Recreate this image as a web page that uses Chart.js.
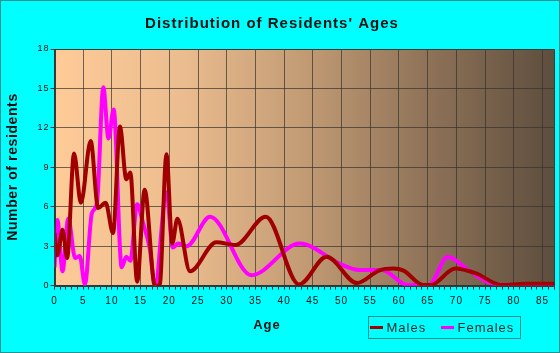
<!DOCTYPE html>
<html>
<head>
<meta charset="utf-8">
<script src="https://cdn.jsdelivr.net/npm/chart.js@4.4.1/dist/chart.umd.min.js"></script>
<style>
  html, body { margin: 0; padding: 0; background: #00ffff; }
</style>
</head>
<body>
<canvas id="ages" width="560" height="353"></canvas>
<script>
/* data */
const maleAges   = [0, 0.5, 1.4, 2.2, 3.4, 4.6, 6.3, 7.6, 8.9, 10.2, 11.4, 12.5, 13.2, 14.4, 15.7, 17.5, 18.3, 19.5, 20.5, 21.4, 23.6, 28.2, 31.5, 36.8, 42.6, 47.4, 52.7, 56.5, 59, 60.8, 64.2, 65.5, 69.8, 73.3, 77.9, 82, 87];
const maleCounts = [4.0, 2.3, 4.25, 2.1, 10.05, 6.3, 11.0, 5.9, 6.3, 4.0, 12.1, 8.1, 8.6, 0.3, 7.3, 0, 0, 10.0, 3.2, 5.1, 1.1, 3.3, 3.1, 5.25, 0.1, 2.2, 0.2, 1.15, 1.3, 1.15, 0.05, 0.05, 1.3, 0.95, 0.05, 0.15, 0.15];

const femaleAges   = [0, 0.5, 1.4, 2.4, 3.6, 4.4, 5.3, 6.5, 7.4, 8.5, 9.4, 10.3, 11.7, 12.5, 13.2, 14.4, 15.4, 16.6, 17.5, 19.5, 20.6, 21.5, 23, 27.1, 34.3, 42.7, 50, 53, 57, 61.5, 65.2, 68.5, 72, 76, 80, 87];
const femaleCounts = [1.4, 5.0, 1.1, 5.1, 2.1, 2.25, 0.1, 5.5, 6.3, 15.1, 11.2, 13.4, 1.4, 2.2, 1.9, 6.2, 4.8, 2.8, 0, 7.1, 2.9, 3.2, 3.0, 5.25, 0.8, 3.2, 1.6, 1.2, 1.2, 0.05, 0.05, 2.2, 1.2, 0.2, 0.05, 0.05];

const seriesNames = ['Males', 'Females'];
const seriesColors = ['#a00000', '#ff00ff'];

const FONT = 'Arial, "Liberation Sans", sans-serif';
const GRID = 'rgba(55,50,45,0.7)';

function points(xs, ys) {
  return xs.map((x, i) => ({ x: x, y: ys[i] }));
}

// background, titles, legend and frame
const decor = {
  id: 'decor',
  beforeDraw(chart) {
    const { ctx, chartArea: a } = chart;
    ctx.save();
    ctx.fillStyle = '#00ffff';
    ctx.fillRect(0, 0, chart.width, chart.height);
    const g = ctx.createLinearGradient(a.left, 0, a.right, 0);
    g.addColorStop(0, '#fecb98');
    g.addColorStop(0.25, '#ecbd8f');
    g.addColorStop(0.5, '#c29b74');
    g.addColorStop(0.75, '#8e7258');
    g.addColorStop(1, '#5e4e3e');
    ctx.fillStyle = g;
    ctx.fillRect(a.left, a.top, a.right - a.left, a.bottom - a.top);
    ctx.restore();
    ctx.letterSpacing = '1px';
  },
  afterDraw(chart) {
    const { ctx, chartArea: a } = chart;
    ctx.save();
    // plot frame
    ctx.strokeStyle = '#3a3a3a';
    ctx.lineWidth = 1;
    ctx.strokeRect(Math.round(a.left) + 0.5, Math.round(a.top) + 0.5,
                   Math.round(a.right - a.left) - 1, Math.round(a.bottom - a.top));
    // outer frame
    ctx.strokeStyle = '#2a9090';
    ctx.strokeRect(0.5, 0.5, chart.width - 1, chart.height - 1);

    ctx.fillStyle = '#111';
    ctx.textBaseline = 'alphabetic';
    ctx.textAlign = 'center';
    ctx.letterSpacing = '1px';
    ctx.font = 'bold 15px ' + FONT;
    ctx.fillText("Distribution of Residents' Ages", 272, 28);

    ctx.font = 'bold 13px ' + FONT;
    ctx.fillText('Age', 267, 328.5);

    ctx.save();
    ctx.translate(16.5, 167);
    ctx.rotate(-Math.PI / 2);
    ctx.letterSpacing = '0.6px';
    ctx.font = 'bold 14px ' + FONT;
    ctx.fillText('Number of residents', 0, 0);
    ctx.restore();

    // legend
    ctx.strokeStyle = '#2a8a8a';
    ctx.strokeRect(368.5, 316.5, 152, 22);
    ctx.font = '13px ' + FONT;
    ctx.textAlign = 'left';
    ctx.fillStyle = '#1a2a2a';
    const lx = [370, 441];
    seriesNames.forEach((name, i) => {
      ctx.strokeStyle = seriesColors[i];
      ctx.lineWidth = 3;
      ctx.beginPath();
      ctx.moveTo(lx[i], 327.5);
      ctx.lineTo(lx[i] + 13, 327.5);
      ctx.stroke();
      ctx.fillText(name, lx[i] + 16.5, 332);
    });
    ctx.restore();
  }
};

new Chart(document.getElementById('ages'), {
  type: 'line',
  data: {
    datasets: [{
      label: seriesNames[0],
      data: points(maleAges, maleCounts),
      borderColor: seriesColors[0],
      borderWidth: 4,
      pointRadius: 0,
      cubicInterpolationMode: 'monotone',
      fill: false
    }, {
      label: seriesNames[1],
      data: points(femaleAges, femaleCounts),
      borderColor: seriesColors[1],
      borderWidth: 4,
      pointRadius: 0,
      cubicInterpolationMode: 'monotone',
      fill: false
    }]
  },
  options: {
    responsive: false,
    animation: false,
    devicePixelRatio: 1,
    layout: { padding: { left: 0, right: 5, top: 49, bottom: 0 } },
    plugins: {
      legend: { display: false },
      title: { display: false },
      tooltip: { enabled: false }
    },
    scales: {
      x: {
        type: 'linear',
        min: 0,
        max: 87,
        afterFit(s) { s.height = 67.3; },
        border: { color: '#333' },
        grid: {
          color: c => (c.tick && c.tick.value % 5 === 0) ? GRID : 'rgba(0,0,0,0)',
          tickColor: '#333',
          tickLength: 4
        },
        ticks: {
          stepSize: 1,
          autoSkip: false,
          maxRotation: 0,
          padding: 6,
          color: '#111',
          font: { family: FONT, size: 10 },
          callback: v => (v % 5 === 0 ? v : '')
        }
      },
      y: {
        min: 0,
        max: 18,
        afterFit(s) { s.width = 54.5; },
        border: { color: '#333' },
        grid: { color: GRID, tickColor: '#333', tickLength: 4 },
        ticks: {
          stepSize: 3,
          padding: 1,
          color: '#111',
          font: { family: FONT, size: 9 }
        }
      }
    }
  },
  plugins: [decor]
});
</script>
</body>
</html>
